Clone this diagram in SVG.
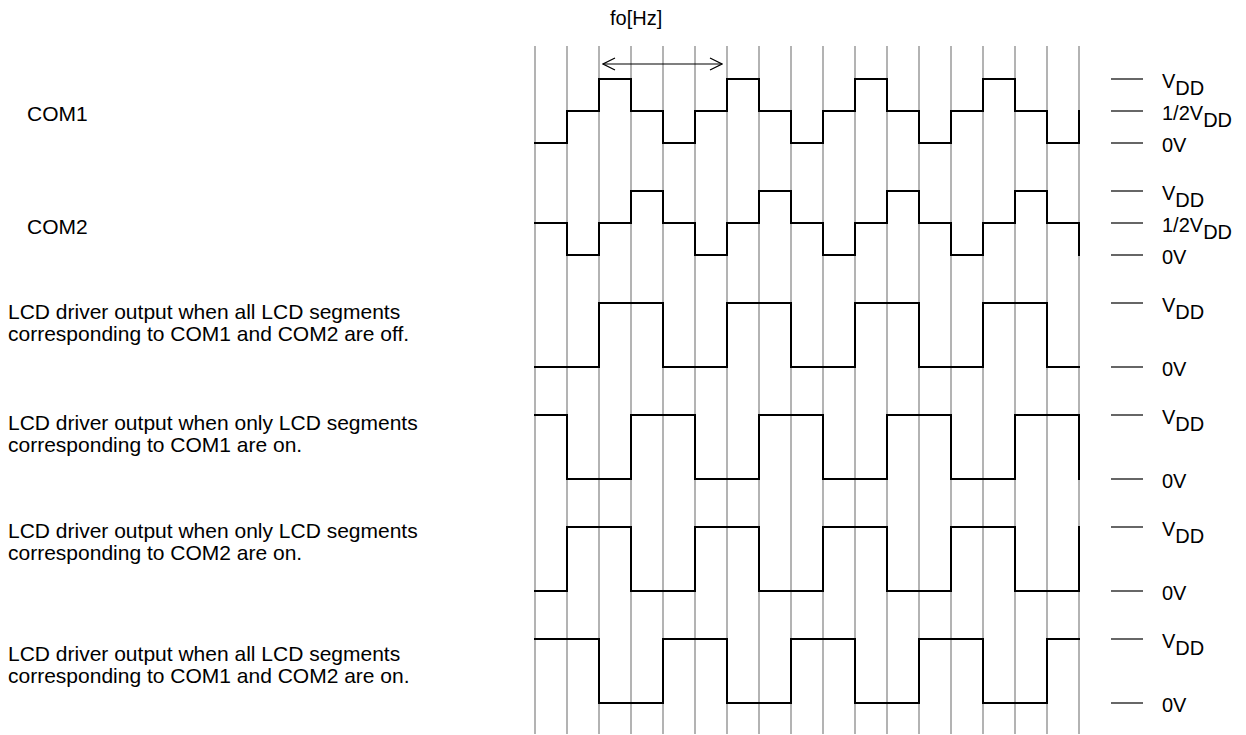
<svg xmlns="http://www.w3.org/2000/svg" width="1246" height="735" viewBox="0 0 1246 735">
<defs>
<style>
.t{font-family:"Liberation Sans",Arial,sans-serif;font-size:21px;fill:#000}
.f{font-family:"Liberation Sans",Arial,sans-serif;font-size:20px;fill:#000}
.r{font-family:"Liberation Sans",Arial,sans-serif;font-size:20px;fill:#000}
.grid line{stroke:#808080;stroke-width:1.2}
.wave{fill:none;stroke:#000;stroke-width:2;stroke-linejoin:miter;stroke-linecap:square}
.tick{stroke:#000;stroke-width:1.2}
</style>
<marker id="ah" viewBox="0 0 14 14" refX="13" refY="7" markerWidth="14" markerHeight="14" markerUnits="userSpaceOnUse" orient="auto-start-reverse">
<path d="M1,1 L13,7 L1,13" fill="none" stroke="#000" stroke-width="1.2"/>
</marker>
</defs>
<rect width="1246" height="735" fill="#fff"/>
<g id="grid" class="grid">
<line x1="535" y1="46" x2="535" y2="734"/>
<line x1="567" y1="46" x2="567" y2="734"/>
<line x1="599" y1="46" x2="599" y2="734"/>
<line x1="631" y1="46" x2="631" y2="734"/>
<line x1="663" y1="46" x2="663" y2="734"/>
<line x1="695" y1="46" x2="695" y2="734"/>
<line x1="727" y1="46" x2="727" y2="734"/>
<line x1="759" y1="46" x2="759" y2="734"/>
<line x1="791" y1="46" x2="791" y2="734"/>
<line x1="823" y1="46" x2="823" y2="734"/>
<line x1="855" y1="46" x2="855" y2="734"/>
<line x1="887" y1="46" x2="887" y2="734"/>
<line x1="919" y1="46" x2="919" y2="734"/>
<line x1="951" y1="46" x2="951" y2="734"/>
<line x1="983" y1="46" x2="983" y2="734"/>
<line x1="1015" y1="46" x2="1015" y2="734"/>
<line x1="1047" y1="46" x2="1047" y2="734"/>
<line x1="1079" y1="46" x2="1079" y2="734"/>
</g>
<g id="freq">
<text class="f" x="610" y="25">fo[Hz]</text>
</g>
<g id="connectors">
<line x1="603" y1="64" x2="722" y2="64" stroke="#000" stroke-width="1.2" marker-start="url(#ah)" marker-end="url(#ah)"/>
</g>
<g id="com1">
<text class="t" x="27" y="121">COM1</text>
<path class="wave" d="M535,143 H567 V111 H599 V79 H631 V111 H663 V143 H695 V111 H727 V79 H759 V111 H791 V143 H823 V111 H855 V79 H887 V111 H919 V143 H951 V111 H983 V79 H1015 V111 H1047 V143 H1079 V111"/>
<line class="tick" x1="1111" y1="79" x2="1143" y2="79"/>
<line class="tick" x1="1111" y1="111" x2="1143" y2="111"/>
<line class="tick" x1="1111" y1="143" x2="1143" y2="143"/>
<text class="r" x="1162" y="88">V<tspan dy="7">DD</tspan></text>
<text class="r" x="1162" y="120">1/2V<tspan dy="7">DD</tspan></text>
<text class="r" x="1162" y="152">0V</text>
</g>
<g id="com2">
<text class="t" x="27" y="234">COM2</text>
<path class="wave" d="M535,223 H567 V255 H599 V223 H631 V191 H663 V223 H695 V255 H727 V223 H759 V191 H791 V223 H823 V255 H855 V223 H887 V191 H919 V223 H951 V255 H983 V223 H1015 V191 H1047 V223 H1079 V255"/>
<line class="tick" x1="1111" y1="191" x2="1143" y2="191"/>
<line class="tick" x1="1111" y1="223" x2="1143" y2="223"/>
<line class="tick" x1="1111" y1="255" x2="1143" y2="255"/>
<text class="r" x="1162" y="200">V<tspan dy="7">DD</tspan></text>
<text class="r" x="1162" y="232">1/2V<tspan dy="7">DD</tspan></text>
<text class="r" x="1162" y="264">0V</text>
</g>
<g id="alloff">
<text class="t" x="8" y="319">LCD driver output when all LCD segments</text>
<text class="t" x="8" y="341">corresponding to COM1 and COM2 are off.</text>
<path class="wave" d="M535,367 H599 V303 H663 V367 H727 V303 H791 V367 H855 V303 H919 V367 H983 V303 H1047 V367 H1079"/>
<line class="tick" x1="1111" y1="303" x2="1143" y2="303"/>
<line class="tick" x1="1111" y1="367" x2="1143" y2="367"/>
<text class="r" x="1162" y="312">V<tspan dy="7">DD</tspan></text>
<text class="r" x="1162" y="376">0V</text>
</g>
<g id="com1on">
<text class="t" x="8" y="430">LCD driver output when only LCD segments</text>
<text class="t" x="8" y="452">corresponding to COM1 are on.</text>
<path class="wave" d="M535,415 H567 V479 H631 V415 H695 V479 H759 V415 H823 V479 H887 V415 H951 V479 H1015 V415 H1079 V479"/>
<line class="tick" x1="1111" y1="415" x2="1143" y2="415"/>
<line class="tick" x1="1111" y1="479" x2="1143" y2="479"/>
<text class="r" x="1162" y="424">V<tspan dy="7">DD</tspan></text>
<text class="r" x="1162" y="488">0V</text>
</g>
<g id="com2on">
<text class="t" x="8" y="538">LCD driver output when only LCD segments</text>
<text class="t" x="8" y="560">corresponding to COM2 are on.</text>
<path class="wave" d="M535,591 H567 V527 H631 V591 H695 V527 H759 V591 H823 V527 H887 V591 H951 V527 H1015 V591 H1079 V527"/>
<line class="tick" x1="1111" y1="527" x2="1143" y2="527"/>
<line class="tick" x1="1111" y1="591" x2="1143" y2="591"/>
<text class="r" x="1162" y="536">V<tspan dy="7">DD</tspan></text>
<text class="r" x="1162" y="600">0V</text>
</g>
<g id="allon">
<text class="t" x="8" y="661">LCD driver output when all LCD segments</text>
<text class="t" x="8" y="683">corresponding to COM1 and COM2 are on.</text>
<path class="wave" d="M535,639 H599 V703 H663 V639 H727 V703 H791 V639 H855 V703 H919 V639 H983 V703 H1047 V639 H1079"/>
<line class="tick" x1="1111" y1="639" x2="1143" y2="639"/>
<line class="tick" x1="1111" y1="703" x2="1143" y2="703"/>
<text class="r" x="1162" y="648">V<tspan dy="7">DD</tspan></text>
<text class="r" x="1162" y="712">0V</text>
</g>
</svg>
